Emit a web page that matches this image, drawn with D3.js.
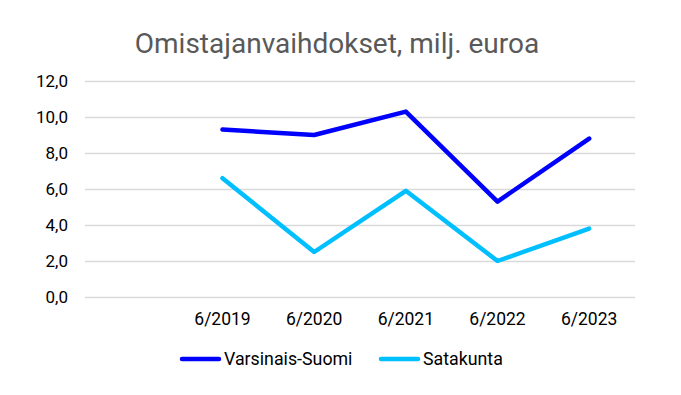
<!DOCTYPE html>
<html><head><meta charset="utf-8">
<script src="https://cdn.jsdelivr.net/npm/d3@7"></script>
<style>body{margin:0;background:#fff}svg{display:block;font-family:Roboto,sans-serif}</style>
</head><body><svg id="c" width="681" height="395"></svg>
<script>
const categories = ["", "6/2019", "6/2020", "6/2021", "6/2022", "6/2023"];
const seriesNames = ["Varsinais-Suomi", "Satakunta"];
const varsinaisSuomi = [null, 9.3, 9.0, 10.3, 5.3, 8.8];
const satakunta = [null, 6.6, 2.5, 5.9, 2.0, 3.8];
const yTicks = [0, 2, 4, 6, 8, 10, 12];
const colors = ["#0000FF", "#00BFFF"];

const svg = d3.select("#c");
const x = d3.scaleBand().domain(categories.map((d,i)=>i)).range([85, 635]);
const y = d3.scaleLinear().domain([0, 12]).range([297, 81]);

svg.append("text").attr("x", 337).attr("y", 53).attr("text-anchor", "middle")
  .attr("font-size", 28).attr("fill", "#595959").text("Omistajanvaihdokset, milj. euroa");

const gy = svg.append("g").attr("transform", "translate(85,0)")
  .call(d3.axisLeft(y).tickValues(yTicks).tickSize(-550)
    .tickFormat(d => d3.format(".1f")(d).replace(".", ",")));
gy.select(".domain").remove();
gy.selectAll(".tick line").attr("stroke", "#d9d9d9").attr("stroke-width", 1.5);
gy.selectAll(".tick text").attr("x", -17).attr("font-size", 17).attr("fill", "#000").attr("font-family", "Roboto");

const gx = svg.append("g").attr("transform", "translate(0,297)")
  .call(d3.axisBottom(x).tickSize(0).tickFormat(i => categories[i]));
gx.select(".domain").remove();
gx.selectAll(".tick text").attr("y", 16).attr("dy", "0.71em").attr("font-size", 17.5).attr("fill", "#000").attr("font-family", "Roboto");

const line = d3.line().defined(d => d.v != null)
  .x(d => x(d.i) + x.bandwidth() / 2).y(d => y(d.v));
[varsinaisSuomi, satakunta].forEach((s, k) => {
  svg.append("path").datum(s.map((v, i) => ({v, i})))
    .attr("d", line).attr("fill", "none").attr("stroke", colors[k])
    .attr("stroke-width", 4.5).attr("stroke-linecap", "round").attr("stroke-linejoin", "round");
});

const legX = [180, 379];
seriesNames.forEach((n, k) => {
  svg.append("line").attr("x1", legX[k] + 2).attr("x2", legX[k] + 39).attr("y1", 359).attr("y2", 359)
    .attr("stroke", colors[k]).attr("stroke-width", 4.5).attr("stroke-linecap", "round");
  svg.append("text").attr("x", legX[k] + 44).attr("y", 359).attr("dy", "0.35em")
    .attr("font-size", 17.8).attr("fill", "#000").text(n);
});
</script></body></html>
